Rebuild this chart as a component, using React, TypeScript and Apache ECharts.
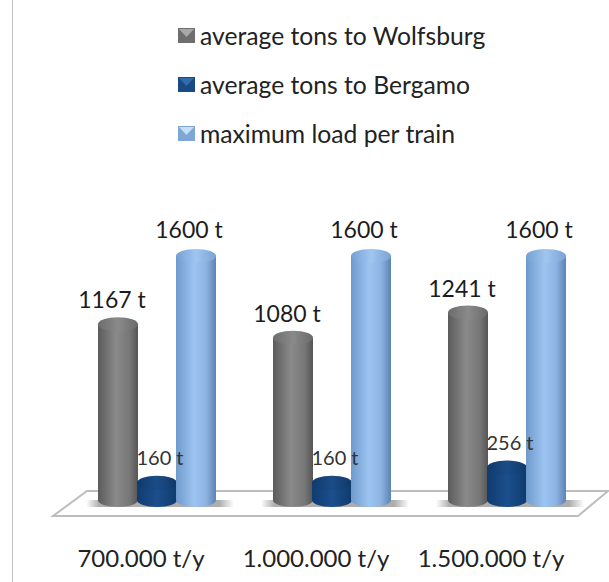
import React, { useEffect, useRef } from "react";
import * as echarts from "echarts";

const categories = ["700.000 t/y", "1.000.000 t/y", "1.500.000 t/y"];
const wolfsburg = [1167, 1080, 1241];
const bergamo = [160, 160, 256];
const maxLoad = [1600, 1600, 1600];
const FONT = "Lato, 'Open Sans', sans-serif";
const AXIS_MIN = 50;

const grad = (stops: [number, string][]) => ({
  type: "linear", x: 0, y: 0, x2: 1, y2: 0, global: false,
  colorStops: stops.map(([offset, color]) => ({ offset, color })),
});

type Look = { body: any; top: any; offset: number; labelDx: number; labelGap: number; fontSize: number; labelColor: string };

const makeRender = (look: Look, withShadow: boolean) => (params: any, api: any) => {
  const idx = api.value(0);
  const val = api.value(1);
  const [cxBase, yTop] = api.coord([idx, val]);
  const [, yBase] = api.coord([idx, AXIS_MIN]);
  const cx = cxBase + look.offset;
  const rx = 20;
  const ry = 7;
  const children: any[] = [];
  if (withShadow) {
    children.push({
      type: "rect",
      shape: { x: cx - 32, y: yBase, width: 148, height: 7 },
      style: { fill: grad([[0, "rgba(0,0,0,0)"], [0.09, "rgba(0,0,0,0.32)"], [0.9, "rgba(0,0,0,0.32)"], [1, "rgba(0,0,0,0)"]]) },
    });
  }
  children.push(
    { type: "ellipse", shape: { cx, cy: yBase, rx, ry }, style: { fill: look.body } },
    { type: "rect", shape: { x: cx - rx, y: yTop, width: rx * 2, height: yBase - yTop }, style: { fill: look.body } },
    { type: "ellipse", shape: { cx, cy: yTop, rx, ry }, style: { fill: look.top } },
    {
      type: "text",
      x: cx + look.labelDx,
      y: yTop - look.labelGap,
      style: {
        text: `${val} t`, fill: look.labelColor, font: `${look.fontSize}px ${FONT}`,
        textAlign: "center", textVerticalAlign: "middle",
      },
      z2: 50,
    },
  );
  return { type: "group", children };
};

const looks: Record<string, Look> = {
  gray: {
    body: grad([[0, "#5b5b5b"], [0.45, "#8a8a8a"], [0.8, "#767676"], [1, "#565656"]]),
    top: grad([[0, "#6c6c6c"], [0.5, "#8a8a8a"], [1, "#6a6a6a"]]),
    offset: -39, labelDx: -6, labelGap: 25, fontSize: 23, labelColor: "#1c1c1c",
  },
  blue: {
    body: grad([[0, "#0f3c70"], [0.5, "#1c4f8e"], [1, "#0f3a6c"]]),
    top: grad([[0, "#0e3a6c"], [0.5, "#1c4c86"], [1, "#0e386a"]]),
    offset: 0, labelDx: 3, labelGap: 26, fontSize: 20, labelColor: "#333",
  },
  light: {
    body: grad([[0, "#6f9acb"], [0.45, "#9cc4f2"], [0.75, "#8db3e2"], [1, "#5c83b3"]]),
    top: grad([[0, "#76a0d2"], [0.5, "#a0c6f0"], [1, "#7aa3d4"]]),
    offset: 39, labelDx: -7, labelGap: 27, fontSize: 23, labelColor: "#1c1c1c",
  },
};

const series = (name: string, values: number[], look: Look, color: string, shadow = false) => ({
  type: "custom", name, coordinateSystem: "cartesian2d",
  itemStyle: { color },
  data: values.map((v, i) => [i, v]),
  renderItem: makeRender(look, shadow),
  clip: false,
});

const bevel = (x: number, y: number, fill: string) => ({
  type: "polygon", silent: true, z: 20,
  shape: { points: [[x + 1, y + 1], [x + 16, y + 1], [x + 8.5, y + 9]] },
  style: { fill },
});

export default function App() {
  const ref = useRef<HTMLDivElement>(null);
  useEffect(() => {
    document.body.style.margin = "0";
    const chart = echarts.init(ref.current!, null, { renderer: "svg" });
    chart.setOption({
      animation: false,
      backgroundColor: "#fff",
      textStyle: { fontFamily: FONT },
      grid: { left: 69.5, width: 525, top: 256, bottom: 82 },
      xAxis: {
        type: "category", data: categories,
        axisLine: { show: false }, axisTick: { show: false }, splitLine: { show: false },
        axisLabel: { fontSize: 24, color: "#222", margin: 45, fontFamily: FONT, interval: 0, padding: [0, 32, 0, 0] },
      },
      yAxis: { type: "value", min: AXIS_MIN, max: 1600, show: false },
      legend: {
        orient: "vertical", left: 173, top: 18, itemWidth: 17, itemHeight: 15, itemGap: 24,
        icon: "rect", selectedMode: false,
        textStyle: { fontSize: 24.7, color: "#222", fontFamily: FONT },
        data: ["average tons to Wolfsburg", "average tons to Bergamo", "maximum load per train"],
      },
      series: [
        series("average tons to Wolfsburg", wolfsburg, looks.gray, "#6e6e6e", true),
        series("average tons to Bergamo", bergamo, looks.blue, "#1a4a84"),
        series("maximum load per train", maxLoad, looks.light, "#7ea6d6"),
      ],
      graphic: [
        { type: "line", silent: true, shape: { x1: 12.5, y1: 0, x2: 12.5, y2: 582 }, style: { stroke: "#c4c4c4", lineWidth: 1 } },
        {
          type: "polygon", silent: true, z: -1,
          shape: { points: [[53, 516], [87, 491], [608, 491], [578, 516]] },
          style: { fill: "#fff", stroke: "#bdbdbd", lineWidth: 2 },
        },
        bevel(178, 28, "#a8a8a8"),
        bevel(178, 77, "#2f6cae"),
        bevel(178, 126, "#c4e0fa"),
      ],
    });
    return () => chart.dispose();
  }, []);
  return <div ref={ref} style={{ width: 609, height: 582 }} />;
}
